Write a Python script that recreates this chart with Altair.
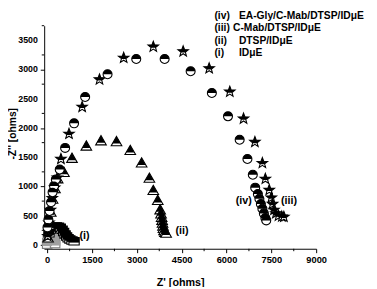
import math
import altair as alt
import pandas as pd

# ---------------- data ----------------
i_x = [60, 110, 170, 240, 310, 380, 440, 500, 550, 600, 650, 700, 760, 830, 900]
i_y = [200, 265, 300, 315, 318, 312, 295, 260, 220, 180, 145, 115, 95, 75, 62]

i_hf_x = [0, 10, 25, 45, 70, 100, 130, 160, 190, 215, 235, 250, 260, 265]
i_hf_y = [0, 50, 100, 145, 180, 205, 218, 220, 210, 185, 150, 105, 55, 10]

ii_x = [30, 70, 120, 180, 260, 350, 560, 830, 1310, 1800, 2320, 2780, 3160, 3420,
        3550, 3700, 3780, 3810, 3830, 3845, 3860, 3875, 3890, 3910, 3940, 3980]
ii_y = [120, 330, 560, 780, 960, 1130, 1240, 1480, 1690, 1780, 1765, 1615, 1400, 1140,
        930, 760, 600, 530, 470, 420, 370, 320, 280, 245, 215, 200]

iii_x = [20, 60, 110, 170, 250, 340, 460, 730, 1170, 1750, 2560, 3550, 4550, 5420,
         6110, 6570, 6950, 7200, 7300, 7430, 7500, 7540, 7590, 7650, 7740, 7850, 7920]
iii_y = [150, 380, 600, 800, 980, 1150, 1470, 1900, 2360, 2830, 3200, 3390, 3310, 3020,
         2620, 2160, 1760, 1400, 1130, 940, 810, 700, 600, 540, 500, 485, 480]

iv_x = [10, 40, 80, 130, 180, 230, 290, 420, 600, 900, 1270, 2020, 2980, 3930,
        4800, 5510, 6050, 6440, 6700, 6880, 6960, 7050, 7100, 7150, 7200, 7250, 7300, 7330]
iv_y = [300, 430, 580, 730, 900, 1010, 1120, 1290, 1660, 2080, 2530, 2920, 3180, 3180,
        2970, 2600, 2200, 1800, 1470, 1200, 980, 870, 790, 700, 620, 540, 460, 420]

legend_tags = ["(iv)", "(iii)", "(ii)", "(i)"]
legend_names = ["EA-Gly/C-Mab/DTSP/IDμE", "C-Mab/DTSP/IDμE", "DTSP/IDμE", "IDμE"]

curve_tags = ["(i)", "(ii)", "(iv)", "(iii)"]
curve_tag_x = [1080, 4290, 6310, 7820]
curve_tag_y = [150, 230, 750, 750]

x_major = list(range(0, 9001, 1500))
x_minor = list(range(750, 9000, 1500))
y_major = list(range(0, 3501, 500))
y_major_labels = [str(v) for v in y_major]
y_minor = list(range(250, 3751, 500))

# ---------------- layout ----------------
W, H = 278, 228
PAD_L, PAD_T = 37, 15
FONT = "Liberation Sans"

xs = alt.Scale(domain=[-100, 9000], nice=False, zero=False)
ys = alt.Scale(domain=[-65, 3750], nice=False, zero=False)


def fmt(p):
    return f"{p[0]:.3f} {p[1]:.3f}"


def poly_path(pts):
    return "M " + " L ".join(fmt(p) for p in pts) + " Z"


def clip_top(pts, c):
    out = []
    n = len(pts)
    for k in range(n):
        a, b = pts[k], pts[(k + 1) % n]
        ina, inb = a[1] <= c, b[1] <= c
        if ina:
            out.append(a)
        if ina != inb:
            t = (c - a[1]) / (b[1] - a[1])
            out.append((a[0] + t * (b[0] - a[0]), c))
    return out


star_pts = []
for k in range(10):
    ang = -math.pi / 2 + k * math.pi / 5
    r = 1.0 if k % 2 == 0 else 0.42
    star_pts.append((r * math.cos(ang), r * math.sin(ang)))

STAR_FULL = poly_path(star_pts)
STAR_TOP = poly_path(clip_top(star_pts, 0.2))
CIRC_FULL = "M -1 0 A 1 1 0 1 1 1 0 A 1 1 0 1 1 -1 0 Z"
CIRC_TOP = "M -1 0 A 1 1 0 0 1 1 0 Z"
TRI_FULL = "M 0 -1 L 1 0.75 L -1 0.75 Z"
TRI_TOP = "M 0 -1 L 0.771 0.35 L -0.771 0.35 Z"
SQ_FULL = "M -1 -0.72 L 1 -0.72 L 1 0.72 L -1 0.72 Z"
SQ_TOP = "M -1 -0.72 L 1 -0.72 L 1 0.25 L -1 0.25 Z"


def series(xv, yv, full, top, size, stroke="black", topfill="black"):
    df = pd.DataFrame({"x": xv, "y": yv})
    enc = dict(x=alt.X("x:Q", scale=xs), y=alt.Y("y:Q", scale=ys))
    base = alt.Chart(df).mark_point(shape=full, size=size, filled=True, fill="white",
                                    stroke=stroke, strokeWidth=1.1, opacity=1).encode(**enc)
    upper = alt.Chart(df).mark_point(shape=top, size=size, filled=True, fill=topfill,
                                     strokeWidth=0, opacity=1).encode(**enc)
    return [base, upper]


axis_x = alt.Axis(
    values=x_major, tickSize=4,
    title="Z' [ohms]", titleFont=FONT, titleFontSize=11, titleFontWeight="bold",
    titleColor="black", titlePadding=13,
    labelFont=FONT, labelFontSize=9.5, labelFontWeight="bold", labelColor="black",
    labelPadding=2, labelFlush=False, labelOverlap=False,
    domainColor="black", tickColor="black", grid=False, format="d",
)
axis_y = alt.Axis(
    values=y_major, tickSize=4, labels=False,
    title="-Z'' [ohms]", titleFont=FONT, titleFontSize=10.5, titleFontWeight="bold",
    titleColor="black", titleAngle=270, titleBaseline="middle", titleAlign="center",
    titleX=-32, titleY=H / 2 - 4,
    domainColor="black", tickColor="black", grid=False,
)

axes_layer = alt.Chart(pd.DataFrame({"x": [0], "y": [0]})).mark_point(opacity=0).encode(
    x=alt.X("x:Q", scale=xs, axis=axis_x), y=alt.Y("y:Q", scale=ys, axis=axis_y)
)

minor_x_layer = alt.Chart(pd.DataFrame({"x": x_minor})).mark_rule(color="black", strokeWidth=1).encode(
    x=alt.X("x:Q", scale=xs), y=alt.value(H), y2=alt.value(H + 2.5)
)
minor_y_layer = alt.Chart(pd.DataFrame({"y": y_minor})).mark_rule(color="black", strokeWidth=1).encode(
    y=alt.Y("y:Q", scale=ys), x=alt.value(0), x2=alt.value(-2.5)
)
y_label_layer = alt.Chart(pd.DataFrame({"y": y_major, "t": y_major_labels})).mark_text(
    font=FONT, fontSize=9, fontWeight="bold", color="black", align="right", baseline="middle"
).encode(y=alt.Y("y:Q", scale=ys), x=alt.value(-6.5), text="t:N")

layers = [axes_layer, minor_x_layer, minor_y_layer, y_label_layer]
layers += series(i_hf_x, i_hf_y, SQ_FULL, SQ_TOP, 95, stroke="#7a7a7a", topfill="#a0a0a0")
layers += series(i_x, i_y, SQ_FULL, SQ_TOP, 110)
layers += series(ii_x, ii_y, TRI_FULL, TRI_TOP, 118)
layers += series(iii_x, iii_y, STAR_FULL, STAR_TOP, 128)
layers += series(iv_x, iv_y, CIRC_FULL, CIRC_TOP, 84)

tags_df = pd.DataFrame({"x": curve_tag_x, "y": curve_tag_y, "t": curve_tags})
layers.append(
    alt.Chart(tags_df).mark_text(font=FONT, fontSize=11, fontWeight="bold", color="black",
                                 align="left", baseline="middle").encode(
        x=alt.X("x:Q", scale=xs), y=alt.Y("y:Q", scale=ys), text="t:N")
)

# legend text block (top right)
line_y0, line_dy = 13 - 8 - PAD_T, 12.6
name_x = [244, 238, 244, 244]
for k in range(4):
    yy = line_y0 + k * line_dy
    layers.append(
        alt.Chart(pd.DataFrame({"t": [legend_tags[k]]})).mark_text(
            font=FONT, fontSize=10.5, fontWeight="bold", color="black",
            align="left", baseline="middle").encode(
            x=alt.value(219 - 8 - PAD_L), y=alt.value(yy), text="t:N")
    )
    layers.append(
        alt.Chart(pd.DataFrame({"t": [legend_names[k]]})).mark_text(
            font=FONT, fontSize=10.5, fontWeight="bold", color="black",
            align="left", baseline="middle").encode(
            x=alt.value(name_x[k] - 8 - PAD_L), y=alt.value(yy), text="t:N")
    )

chart = alt.layer(*layers).properties(
    width=W, height=H,
    autosize=alt.AutoSizeParams(type="none"),
    padding={"left": PAD_L, "top": PAD_T, "right": 54, "bottom": 36},
    background="white",
).configure_view(stroke=None)

chart.save("out.html", embed_options={"renderer": "svg", "actions": False})
